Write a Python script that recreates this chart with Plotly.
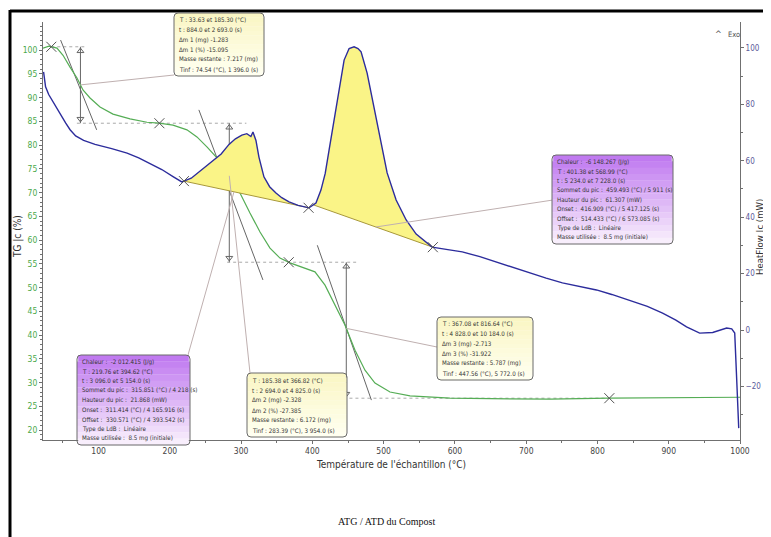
import numpy as np
import plotly.graph_objects as go

# ---------------- data ----------------
tg_T = [22, 30.4, 41.6, 50.1, 59.9, 69.7, 78.1, 88, 102, 120.2, 144.1, 167.9, 184.8, 204.4,
        224, 238, 252, 266.1, 284.4, 298.4, 312.4, 326.5, 340.5, 354.5, 368.6, 382.6, 403.6,
        417.7, 431.7, 445.7, 459.8, 473.8, 487.8, 508.9, 537, 593, 650, 733.4, 816.2, 900, 1000]
tg_val = [100.4, 100.8, 100.4, 98.9, 96.4, 94.1, 91.6, 89.9, 88.0, 86.5, 85.5, 84.8, 84.6, 84.2,
          83.2, 81.7, 79.6, 77.3, 73.3, 69.9, 65.7, 61.7, 58.3, 56.2, 55.2, 54.5, 53.3,
          50.5, 46.3, 42.1, 36.8, 32.6, 29.9, 28.0, 27.2, 26.7, 26.6, 26.5, 26.7, 26.8, 26.9]

hf_T = [22.8, 25.6, 30, 36.9, 45, 53.7, 60, 67.8, 79, 95, 118.4, 140, 156.3, 175, 188.7, 205,
        216.8, 230, 240.7, 251, 261.7, 272, 283, 292, 301, 308, 313.7, 316.6, 320.8, 325, 332,
        340, 348.9, 357, 367.2, 380, 395.3, 405, 412, 418, 423.4, 429, 434.6, 440, 444.5, 451.5,
        458.5, 464, 468.3, 476.8, 486.6, 496.5, 504.9, 517.5, 531.6, 545.6, 568, 590, 610.3,
        635, 658, 680, 704.5, 728, 750.8, 775, 798.6, 820, 845, 870, 891.4, 910, 925, 943.4,
        961.7, 975, 981.3, 988.4, 992.6, 995.4, 996.8, 998.2]
hf_val = [91.5, 86.2, 83.5, 80.5, 77.0, 73.4, 71.0, 68.8, 67.2, 65.8, 64.3, 62.7, 61.0, 58.8,
          56.9, 54.3, 52.5, 53.8, 56.0, 58.2, 60.3, 62.4, 65.8, 67.8, 69.1, 69.6, 68.6, 70.2,
          67.2, 61.3, 54.3, 50.8, 48.6, 46.9, 45.4, 44.2, 43.3, 45.0, 49.6, 55.5, 63.8, 72.5,
          81.6, 89.0, 95.7, 99.8, 100.4, 99.8, 98.6, 91.1, 79.1, 66.3, 55.7, 46.1, 39.0, 34.0,
          29.4, 28.5, 27.7, 26.0, 24.1, 22.2, 20.2, 18.4, 16.7, 15.5, 14.2, 12.6, 10.6, 8.4,
          6.0, 3.5, 1.1, -1.1, -0.9, 0.3, 0.7, 0.4, -1.1, -17.7, -30.9, -34.8]

step_T = [33.63, 185.30, 366.82, 816.64]          # TG step limits
tinf_T = [74.54, 283.39, 447.56]                   # inflection points
peak_bounds = [[219.76, 394.62], [401.38, 568.99]]  # DTA integration limits
hf_marker_T = [219.76, 394.62, 568.99]
tangent_T = [[46.7, 97.3], [240.7, 330.6], [406.9, 482.8]]
tangent_TG = [[102.1, 83.2], [87.4, 51.6], [58.9, 26.3]]

x_ticks = [100, 200, 300, 400, 500, 600, 700, 800, 900, 1000]
tg_ticks = list(range(20, 101, 5))
hf_ticks = [-40, -20, 0, 20, 40, 60, 80, 100]

box1_lines = ["T : 33.63 et 185.30 (°C)", "t : 884.0 et 2 693.0 (s)", "Δm 1 (mg) -1.283",
              "Δm 1 (%) -15.095", "Masse restante : 7.217 (mg)", "Tinf : 74.54 (°C), 1 396.0 (s)"]
box2_lines = ["Chaleur :  -6 148.267 (J/g)", "T : 401.38 et 568.99 (°C)", "t : 5 234.0 et 7 228.0 (s)",
              "Sommet du pic :  459.493 (°C) / 5 911 (s)", "Hauteur du pic :  61.307 (mW)",
              "Onset :  416.909 (°C) / 5 417.125 (s)", "Offset :  514.433 (°C) / 6 573.085 (s)",
              "Type de LdB :  Linéaire", "Masse utilisée :  8.5 mg (initiale)"]
box3_lines = ["T : 367.08 et 816.64 (°C)", "t : 4 828.0 et 10 184.0 (s)", "Δm 3 (mg) -2.713",
              "Δm 3 (%) -31.922", "Masse restante : 5.787 (mg)", "Tinf : 447.56 (°C), 5 772.0 (s)"]
box4_lines = ["T : 185.38 et 366.82 (°C)", "t : 2 694.0 et 4 825.0 (s)", "Δm 2 (mg) -2.328",
              "Δm 2 (%) -27.385", "Masse restante : 6.172 (mg)", "Tinf : 283.39 (°C), 3 954.0 (s)"]
box5_lines = ["Chaleur :  -2 012.415 (J/g)", "T : 219.76 et 394.62 (°C)", "t : 3 096.0 et 5 154.0 (s)",
              "Sommet du pic :  315.851 (°C) / 4 218 (s)", "Hauteur du pic :  21.868 (mW)",
              "Onset :  311.414 (°C) / 4 165.916 (s)", "Offset :  330.571 (°C) / 4 393.542 (s)",
              "Type de LdB :  Linéaire", "Masse utilisée :  8.5 mg (initiale)"]

# ---------------- layout geometry ----------------
# The page body has an 8 px margin; all pixel positions below are page positions.
OFF = 8
W, H = 771 - OFF, 537 - OFF
P_LEFT, P_RIGHT, P_TOP, P_BOT = 43, 740, 22, 440          # plot area on the page
PW, PH = P_RIGHT - P_LEFT, P_BOT - P_TOP
ML, MT = P_LEFT - OFF, P_TOP - OFF
MR, MB = W - (P_RIGHT - OFF), H - (P_BOT - OFF)
X_RANGE = [22, 1000]
Y1_RANGE = [17.9, 105.9]
Y2_RANGE = [-39.0, 109.2]

def PX(px):
    return (px - P_LEFT) / PW

def PY(py):
    return (P_BOT - py) / PH

def dx(T):
    return (T - X_RANGE[0]) / (X_RANGE[1] - X_RANGE[0])

def dy1(v):
    return (v - Y1_RANGE[0]) / (Y1_RANGE[1] - Y1_RANGE[0])

def dy2(v):
    return (v - Y2_RANGE[0]) / (Y2_RANGE[1] - Y2_RANGE[0])

tg = lambda t: float(np.interp(t, tg_T, tg_val))
hf = lambda t: float(np.interp(t, hf_T, hf_val))

GREEN = "#55ad55"
BLUE = "#2c2c9c"
GRAY = "#555555"
FONT = "Liberation Sans Narrow, DejaVu Sans Condensed, Liberation Sans, Arial, sans-serif"

fig = go.Figure()

# peak fills and baselines
for a, b in peak_bounds:
    seg = [t for t in hf_T if a < t < b]
    xs = [a] + seg + [b]
    ys = [hf(t) for t in xs]
    bx = [b, a]
    by = [hf(b), hf(a)]
    fig.add_trace(go.Scatter(x=xs + bx, y=ys + by, yaxis="y2", fill="toself", mode="lines",
                             line=dict(width=0), fillcolor="rgb(250,244,135)", hoverinfo="skip"))
    fig.add_trace(go.Scatter(x=[a, b], y=[hf(a), hf(b)], yaxis="y2", mode="lines",
                             line=dict(color="#a8983a", width=1), hoverinfo="skip"))

# dotted level lines
levels = [tg(t) for t in step_T]
spans = [[step_T[0], tinf_T[0] + 8], [tinf_T[0] - 5, tinf_T[1] + 24],
         [tinf_T[1] - 3, tinf_T[2] + 14], [tinf_T[2] - 4, step_T[3]]]
for lev, (s0, s1) in zip(levels, spans):
    fig.add_trace(go.Scatter(x=[s0, s1], y=[lev, lev], mode="lines",
                             line=dict(color="#aaaaaa", width=1, dash="dot"), hoverinfo="skip"))

# tangents
for tx, ty in zip(tangent_T, tangent_TG):
    fig.add_trace(go.Scatter(x=tx, y=ty, mode="lines", line=dict(color="#666666", width=1),
                             hoverinfo="skip"))

# vertical arrows
for k, t in enumerate(tinf_T):
    top, bot = levels[k], levels[k + 1]
    fig.add_trace(go.Scatter(x=[t, t], y=[top, bot], mode="lines",
                             line=dict(color="#666666", width=1), hoverinfo="skip"))
    fig.add_trace(go.Scatter(x=[t, t], y=[top - 0.9, bot + 0.9], mode="markers",
                             marker=dict(symbol=["triangle-up-open", "triangle-down-open"], size=6,
                                         color="#666666", line=dict(width=1)), hoverinfo="skip"))

# curves
fig.add_trace(go.Scatter(x=tg_T, y=tg_val, mode="lines", line=dict(color=GREEN, width=1.2),
                         name="TG"))
fig.add_trace(go.Scatter(x=hf_T, y=hf_val, yaxis="y2", mode="lines",
                         line=dict(color=BLUE, width=1.4), name="HeatFlow"))

# markers
fig.add_trace(go.Scatter(x=step_T, y=levels, mode="markers",
                         marker=dict(symbol="x-thin", size=10, line=dict(color=GRAY, width=1)),
                         hoverinfo="skip"))
fig.add_trace(go.Scatter(x=hf_marker_T, y=[hf(t) for t in hf_marker_T], yaxis="y2", mode="markers",
                         marker=dict(symbol="x-thin", size=10, line=dict(color=GRAY, width=1)),
                         hoverinfo="skip"))

shapes = []
annots = []

# frame
shapes.append(dict(type="line", xref="paper", yref="paper", x0=PX(10), x1=PX(W + 20), y0=PY(11), y1=PY(11),
                   line=dict(color="black", width=3)))
shapes.append(dict(type="line", xref="paper", yref="paper", x0=PX(10), x1=PX(10), y0=PY(10), y1=PY(H + 20),
                   line=dict(color="black", width=3)))

# leader lines (data point -> box)
leaders = [((dx(tinf_T[0]), dy1(tg(tinf_T[0]))), (PX(174), PY(75))),
           ((dx(489), dy2(np.interp(489, peak_bounds[1], [hf(peak_bounds[1][0]), hf(peak_bounds[1][1])]))),
            (PX(553), PY(200))),
           ((dx(tinf_T[2]), dy1(tg(tinf_T[2]))), (PX(437), PY(347))),
           ((dx(tinf_T[1]), dy1(tg(tinf_T[1]))), (PX(250), PY(373))),
           ((dx(290), dy2(np.interp(290, peak_bounds[0], [hf(peak_bounds[0][0]), hf(peak_bounds[0][1])]))),
            (PX(188), PY(355)))]
for (x0, y0), (x1, y1) in leaders:
    shapes.append(dict(type="line", xref="paper", yref="paper", x0=x0, y0=y0, x1=x1, y1=y1,
                       line=dict(color="#bfb0b0", width=1), layer="above"))


def mix(c0, c1, f):
    return "rgb(%d,%d,%d)" % tuple(round(a + (b - a) * f) for a, b in zip(c0, c1))


def box(x0, y0, x1, y1, c_top, c_bot, lines, n=14, r=4, fs=6.2):
    h = (y1 - y0) / n
    for i in range(n):
        inset = 1.2 if i in (0, n - 1) else 0
        shapes.append(dict(type="rect", xref="paper", yref="paper", layer="above",
                           x0=PX(x0 + inset), x1=PX(x1 - inset), y0=PY(y0 + i * h), y1=PY(y0 + (i + 1) * h + 0.3),
                           fillcolor=mix(c_top, c_bot, i / (n - 1)), line=dict(width=0)))
    p = (f"M {PX(x0+r)},{PY(y0)} L {PX(x1-r)},{PY(y0)} Q {PX(x1)},{PY(y0)} {PX(x1)},{PY(y0+r)} "
         f"L {PX(x1)},{PY(y1-r)} Q {PX(x1)},{PY(y1)} {PX(x1-r)},{PY(y1)} "
         f"L {PX(x0+r)},{PY(y1)} Q {PX(x0)},{PY(y1)} {PX(x0)},{PY(y1-r)} "
         f"L {PX(x0)},{PY(y0+r)} Q {PX(x0)},{PY(y0)} {PX(x0+r)},{PY(y0)} Z")
    shapes.append(dict(type="path", xref="paper", yref="paper", path=p, layer="above",
                       line=dict(color="#6a6a6a", width=1)))
    pitch = (y1 - y0 - 4) / len(lines)
    for i, s in enumerate(lines):
        annots.append(dict(xref="paper", yref="paper", x=PX(x0 + 2.5), y=PY(y0 + 2 + (i + 0.5) * pitch),
                           xanchor="left", yanchor="middle", align="left", showarrow=False, text=s,
                           font=dict(family=FONT, size=fs, color="#333333")))


YEL = ((250, 246, 196), (255, 255, 240))
PUR = ((192, 122, 240), (248, 238, 252))
box(174, 13, 264, 76, *YEL, box1_lines)
box(552, 155, 673, 244, *PUR, box2_lines)
box(437, 317, 533, 380, *YEL, box3_lines)
box(247, 373, 347, 437, *YEL, box4_lines)
box(77, 355, 190, 445, *PUR, box5_lines)

# titles and labels (explicit centre anchoring)
def label(px, py, text, size, color="#333333", angle=0, family=FONT):
    annots.append(dict(xref="paper", yref="paper", x=PX(px), y=PY(py), text=text, textangle=angle,
                       xanchor="center", yanchor="middle", showarrow=False, borderpad=0,
                       font=dict(family=family, size=size, color=color)))

label(18, 237, "TG |c (%)", 10, angle=-90)
label(760, 237, "HeatFlow |c (mW)", 9.5, angle=-90)
label(391, 465, "Température de l'échantillon (°C)", 10)
label(386, 521, "ATG / ATD du Compost", 10, color="#111111", family="Liberation Serif, Times New Roman, serif")
label(718, 34, "^", 9, color="#555555")
label(734, 34, "Exo", 7.5, color="#555555")

axis_common = dict(showline=True, linecolor="#707070", linewidth=1, ticks="outside", ticklen=3,
                   tickcolor="#707070", showgrid=False, zeroline=False, automargin=False)

fig.update_layout(
    width=W, height=H, margin=dict(l=ML, r=MR, t=MT, b=MB, autoexpand=False),
    paper_bgcolor="white", plot_bgcolor="white", showlegend=False,
    xaxis=dict(range=X_RANGE, tickvals=x_ticks, tickfont=dict(family=FONT, size=8.5, color="#444444"),
               minor=dict(dtick=50, ticklen=2, ticks="outside", tickcolor="#707070"), **axis_common),
    yaxis=dict(range=Y1_RANGE, tickvals=tg_ticks, tickfont=dict(family=FONT, size=8.5, color="#4aa84a"),
               minor=dict(dtick=1, ticklen=2, ticks="outside", tickcolor="#707070"), **axis_common),
    yaxis2=dict(range=Y2_RANGE, tickvals=hf_ticks, overlaying="y", side="right",
                tickfont=dict(family=FONT, size=8, color="#5a5a9a"),
                minor=dict(dtick=10, ticklen=2, ticks="outside", tickcolor="#707070"), **axis_common),
    shapes=shapes, annotations=annots,
)

fig.write_html("out.html")
